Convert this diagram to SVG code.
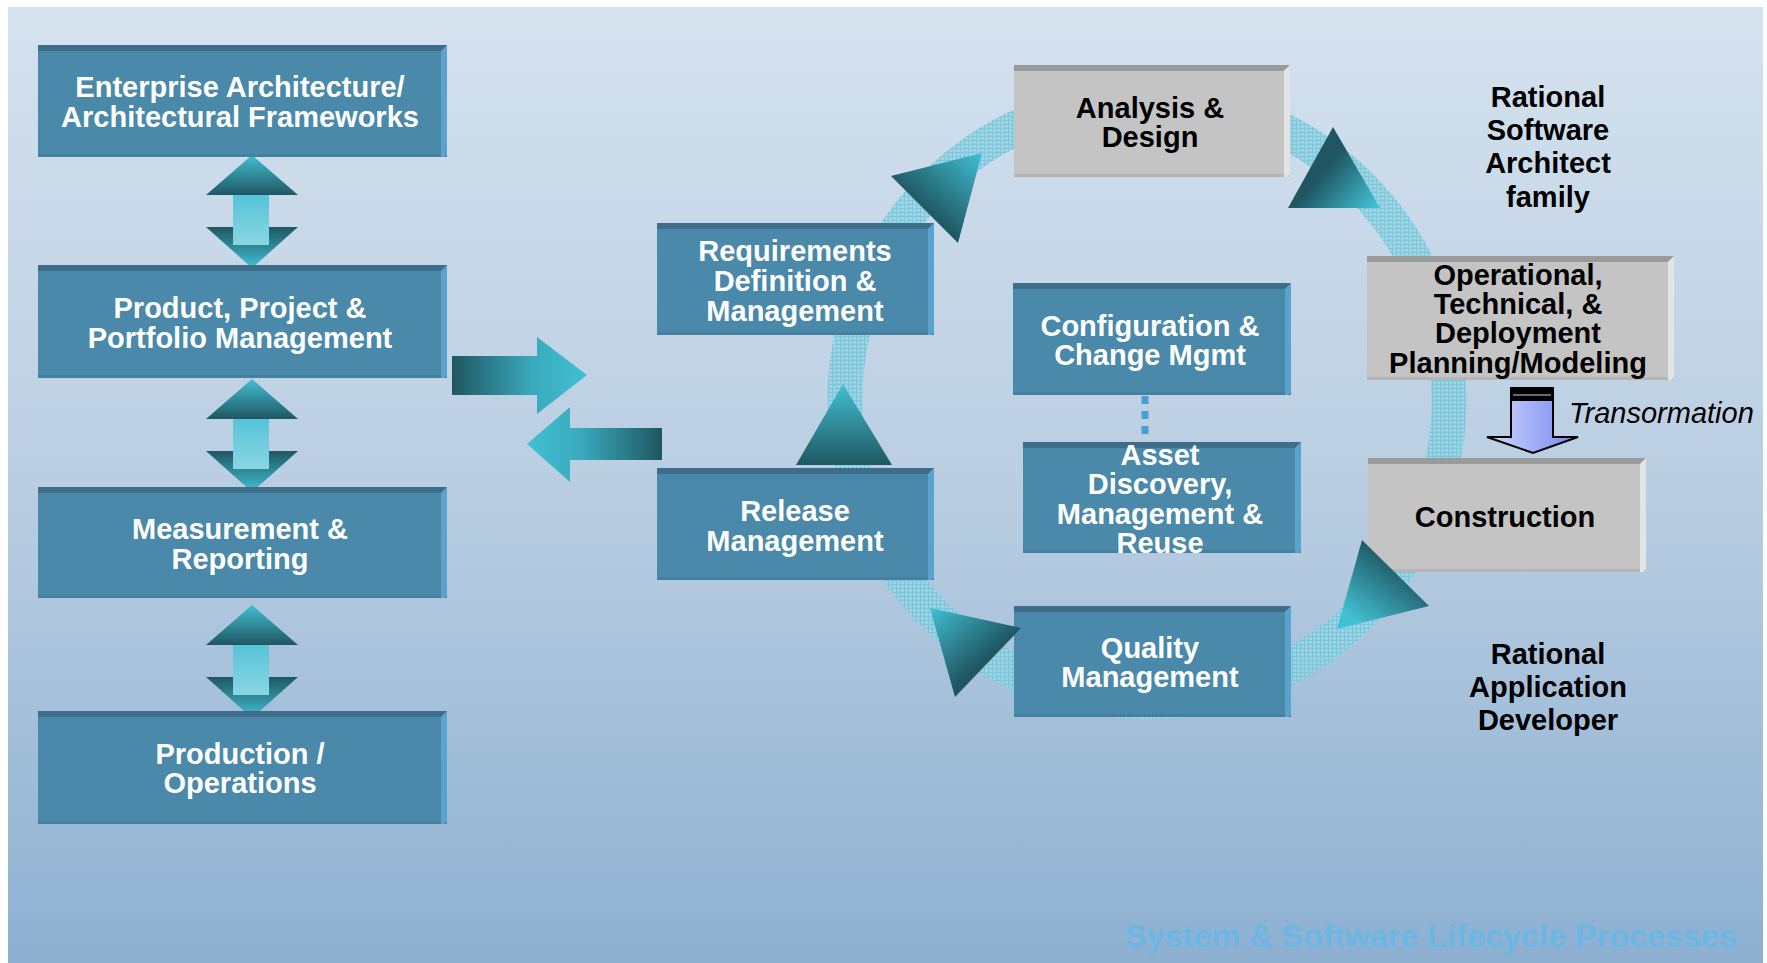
<svg xmlns="http://www.w3.org/2000/svg" width="1767" height="963" viewBox="0 0 1767 963">
<defs>
<linearGradient id="bg" x1="0" y1="0" x2="0" y2="1">
<stop offset="0" stop-color="#D5E2EE"/>
<stop offset="0.5" stop-color="#BACEE2"/>
<stop offset="1" stop-color="#8DB0D1"/>
</linearGradient>
<linearGradient id="gUp" x1="0" y1="0" x2="0" y2="1">
<stop offset="0" stop-color="#42BFD2"/>
<stop offset="1" stop-color="#1F5763"/>
</linearGradient>
<linearGradient id="gDown" x1="0" y1="0" x2="0" y2="1">
<stop offset="0" stop-color="#1F5763"/>
<stop offset="1" stop-color="#42BFD2"/>
</linearGradient>
<linearGradient id="gShaft" x1="0" y1="0" x2="0" y2="1">
<stop offset="0" stop-color="#56C3D7"/>
<stop offset="1" stop-color="#8AD6E3"/>
</linearGradient>
<linearGradient id="gRight" x1="0" y1="0" x2="1" y2="0">
<stop offset="0" stop-color="#1F5662"/>
<stop offset="0.6" stop-color="#3AAABD"/>
<stop offset="1" stop-color="#42BFD2"/>
</linearGradient>
<linearGradient id="gLeft" x1="0" y1="0" x2="1" y2="0">
<stop offset="0" stop-color="#42BFD2"/>
<stop offset="0.4" stop-color="#3AAABD"/>
<stop offset="1" stop-color="#1F5662"/>
</linearGradient>
<linearGradient id="gTA" x1="1" y1="0" x2="0.2" y2="0.9">
<stop offset="0" stop-color="#42BFD2"/>
<stop offset="0.75" stop-color="#1F5662"/>
</linearGradient>
<linearGradient id="gTB" x1="0.2" y1="0.3" x2="1" y2="0.9">
<stop offset="0.3" stop-color="#1F5662"/>
<stop offset="1" stop-color="#42BFD2"/>
</linearGradient>
<linearGradient id="gTC" x1="0.8" y1="0.1" x2="0.2" y2="0.9">
<stop offset="0.2" stop-color="#1F5662"/>
<stop offset="1" stop-color="#42BFD2"/>
</linearGradient>
<linearGradient id="gTD" x1="0" y1="0" x2="0.8" y2="0.9">
<stop offset="0" stop-color="#42BFD2"/>
<stop offset="0.7" stop-color="#1F5662"/>
</linearGradient>
<linearGradient id="gTrans" x1="0" y1="0" x2="1" y2="0">
<stop offset="0" stop-color="#D2D8FF"/>
<stop offset="1" stop-color="#7586EE"/>
</linearGradient>
<pattern id="ringPat" width="4" height="4" patternUnits="userSpaceOnUse">
<rect width="4" height="4" fill="#9AD3E3"/>
<rect width="4" height="1" fill="#72C6DC"/>
<rect width="1" height="4" fill="#72C6DC"/>
</pattern>
<g id="dbl">
<polygon points="46,0 0,40 92,40" fill="url(#gUp)"/>
<polygon points="0,72 92,72 46,113" fill="url(#gDown)"/>
<rect x="27" y="40" width="36" height="50" fill="url(#gShaft)"/>
</g>
</defs>
<style>
.face{fill:#4A89AA}
.top{fill:#3D6D8B}
.side{fill:#5AA3CF}
.bot{fill:#44809F}
.gface{fill:#C4C4C4}
.gtop{fill:#9A9A9A}
.gside{fill:#E4E4E4}
.gbot{fill:#B5B5B5}
text{font-family:"Liberation Sans",Arial,sans-serif;font-weight:bold;text-anchor:middle}
.w{fill:#FFFFFF;font-size:29px}
.k{fill:#000000;font-size:29px}
</style>
<rect x="0" y="0" width="1767" height="963" fill="#FFFFFF"/>
<rect x="8" y="7" width="1755" height="956" fill="url(#bg)"/>
<circle cx="1147" cy="400" r="302" fill="none" stroke="url(#ringPat)" stroke-width="35" opacity="0.9"/>
<g id="connectors">
<use href="#dbl" x="206" y="155"/>
<use href="#dbl" x="206" y="379"/>
<use href="#dbl" x="206" y="605"/>
<polygon points="452,356 537,356 537,337 587,375 537,414 537,395 452,395" fill="url(#gRight)"/>
<polygon points="527,444 570,407 570,428 662,428 662,460 570,460 570,482" fill="url(#gLeft)"/>
<line x1="1145" y1="396" x2="1145" y2="441" stroke="#4A9FD0" stroke-width="7" stroke-dasharray="8,7"/>
</g>
<g id="n-enterprise">
<rect class="face" x="38" y="45" width="409" height="112"/>
<polygon class="top" points="38,45 447,45 441,51 38,51"/>
<polygon class="side" points="441,51 447,45 447,154 444,157 441,157"/>
<rect class="bot" x="38" y="154" width="403" height="3"/>
<text class="w" x="240" y="97">Enterprise Architecture/</text>
<text class="w" x="240" y="127">Architectural Frameworks</text>
</g>
<g id="n-product">
<rect class="face" x="38" y="265" width="409" height="113"/>
<polygon class="top" points="38,265 447,265 441,271 38,271"/>
<polygon class="side" points="441,271 447,265 447,375 444,378 441,378"/>
<rect class="bot" x="38" y="375" width="403" height="3"/>
<text class="w" x="240" y="318">Product, Project &amp;</text>
<text class="w" x="240" y="348">Portfolio Management</text>
</g>
<g id="n-measurement">
<rect class="face" x="38" y="487" width="409" height="111"/>
<polygon class="top" points="38,487 447,487 441,493 38,493"/>
<polygon class="side" points="441,493 447,487 447,595 444,598 441,598"/>
<rect class="bot" x="38" y="595" width="403" height="3"/>
<text class="w" x="240" y="539">Measurement &amp;</text>
<text class="w" x="240" y="569">Reporting</text>
</g>
<g id="n-production">
<rect class="face" x="38" y="711" width="409" height="113"/>
<polygon class="top" points="38,711 447,711 441,717 38,717"/>
<polygon class="side" points="441,717 447,711 447,821 444,824 441,824"/>
<rect class="bot" x="38" y="821" width="403" height="3"/>
<text class="w" x="240" y="764">Production /</text>
<text class="w" x="240" y="793">Operations</text>
</g>
<g id="n-requirements">
<rect class="face" x="657" y="223" width="277" height="112"/>
<polygon class="top" points="657,223 934,223 928,229 657,229"/>
<polygon class="side" points="928,229 934,223 934,332 931,335 928,335"/>
<rect class="bot" x="657" y="332" width="271" height="3"/>
<text class="w" x="795" y="261">Requirements</text>
<text class="w" x="795" y="291">Definition &amp;</text>
<text class="w" x="795" y="321">Management</text>
</g>
<g id="n-release">
<rect class="face" x="657" y="468" width="277" height="112"/>
<polygon class="top" points="657,468 934,468 928,474 657,474"/>
<polygon class="side" points="928,474 934,468 934,577 931,580 928,580"/>
<rect class="bot" x="657" y="577" width="271" height="3"/>
<text class="w" x="795" y="521">Release</text>
<text class="w" x="795" y="551">Management</text>
</g>
<g id="n-analysis">
<rect class="gface" x="1014" y="65" width="276" height="112"/>
<polygon class="gtop" points="1014,65 1290,65 1284,71 1014,71"/>
<polygon class="gside" points="1284,71 1290,65 1290,174 1287,177 1284,177"/>
<rect class="gbot" x="1014" y="174" width="270" height="3"/>
<text class="k" x="1150" y="118">Analysis &amp;</text>
<text class="k" x="1150" y="147">Design</text>
</g>
<g id="n-config">
<rect class="face" x="1013" y="283" width="278" height="112"/>
<polygon class="top" points="1013,283 1291,283 1285,289 1013,289"/>
<polygon class="side" points="1285,289 1291,283 1291,392 1288,395 1285,395"/>
<rect class="bot" x="1013" y="392" width="272" height="3"/>
<text class="w" x="1150" y="336">Configuration &amp;</text>
<text class="w" x="1150" y="365">Change Mgmt</text>
</g>
<g id="n-asset">
<rect class="face" x="1023" y="442" width="278" height="111"/>
<polygon class="top" points="1023,442 1301,442 1295,448 1023,448"/>
<polygon class="side" points="1295,448 1301,442 1301,550 1298,553 1295,553"/>
<rect class="bot" x="1023" y="550" width="272" height="3"/>
<text class="w" x="1160" y="465">Asset</text>
<text class="w" x="1160" y="494">Discovery,</text>
<text class="w" x="1160" y="524">Management &amp;</text>
<text class="w" x="1160" y="553">Reuse</text>
</g>
<g id="n-quality">
<rect class="face" x="1014" y="606" width="277" height="111"/>
<polygon class="top" points="1014,606 1291,606 1285,612 1014,612"/>
<polygon class="side" points="1285,612 1291,606 1291,714 1288,717 1285,717"/>
<rect class="bot" x="1014" y="714" width="271" height="3"/>
<text class="w" x="1150" y="658">Quality</text>
<text class="w" x="1150" y="687">Management</text>
</g>
<g id="n-operational">
<rect class="gface" x="1367" y="256" width="307" height="124"/>
<polygon class="gtop" points="1367,256 1674,256 1668,262 1367,262"/>
<polygon class="gside" points="1668,262 1674,256 1674,377 1671,380 1668,380"/>
<rect class="gbot" x="1367" y="377" width="301" height="3"/>
<text class="k" x="1518" y="285">Operational,</text>
<text class="k" x="1518" y="314">Technical, &amp;</text>
<text class="k" x="1518" y="343">Deployment</text>
<text class="k" x="1518" y="373">Planning/Modeling</text>
</g>
<g id="n-construction">
<rect class="gface" x="1368" y="458" width="278" height="114"/>
<polygon class="gtop" points="1368,458 1646,458 1640,464 1368,464"/>
<polygon class="gside" points="1640,464 1646,458 1646,569 1643,572 1640,572"/>
<rect class="gbot" x="1368" y="569" width="272" height="3"/>
<text class="k" x="1505" y="527">Construction</text>
</g>
<g id="ring-arrows">
<polygon points="843,384 796,465 892,465" fill="url(#gUp)"/>
<polygon points="891,176 982,153 958,243" fill="url(#gTA)"/>
<polygon points="1333,127 1288,208 1380,208" fill="url(#gTB)"/>
<polygon points="1362,540 1337,629 1429,606" fill="url(#gTC)"/>
<polygon points="930,608 1021,628 955,697" fill="url(#gTD)"/>
</g>
<g id="transformation">
<polygon points="1511,388 1553,388 1553,437 1578,437 1533,453 1487,437 1511,437" fill="url(#gTrans)" stroke="#000000" stroke-width="2"/>
<rect x="1511" y="388" width="42" height="13" fill="#000000"/>
<line x1="1513" y1="395" x2="1551" y2="395" stroke="#C8D0FF" stroke-width="1"/>
<text x="1569" y="423" style="font-weight:normal;font-style:italic;font-size:29px;text-anchor:start;fill:#000000">Transormation</text>
</g>
<g id="labels">
<text class="k" x="1548" y="107">Rational</text>
<text class="k" x="1548" y="140">Software</text>
<text class="k" x="1548" y="173">Architect</text>
<text class="k" x="1548" y="207">family</text>
<text class="k" x="1548" y="664">Rational</text>
<text class="k" x="1548" y="697">Application</text>
<text class="k" x="1548" y="730">Developer</text>
<text x="1125" y="947" style="font-size:32px;text-anchor:start;fill:#6AB7E5" textLength="612" lengthAdjust="spacingAndGlyphs">System  &amp; Software Lifecycle Processes</text>
</g>
</svg>
